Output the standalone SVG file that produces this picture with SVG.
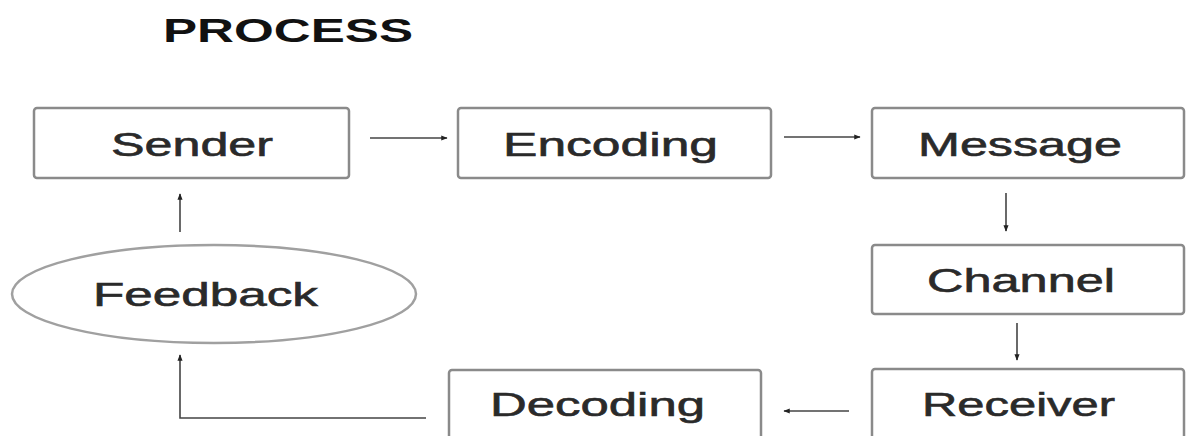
<svg xmlns="http://www.w3.org/2000/svg" width="1186" height="436" viewBox="0 0 1186 436">
  <defs>
    <marker id="dot" viewBox="0 0 10 10" refX="9" refY="5" markerWidth="4" markerHeight="4" orient="auto" markerUnits="strokeWidth">
      <path d="M0,1 L10,5 L0,9 z" fill="#222"/>
    </marker>
    <style>
      .box { fill: #fff; stroke: #8a8a8a; stroke-width: 2.5; }
      .lbl { font-family: "Liberation Sans", Arial, sans-serif; font-size: 33px; fill: #2a2a2a; stroke: #2a2a2a; stroke-width: 0.6; }
      .title { font-family: "Liberation Sans", Arial, sans-serif; font-size: 33px; font-weight: bold; fill: #111; }
      .wire { fill: none; stroke: #444; stroke-width: 1.6; }
    </style>
  </defs>
  <rect width="1186" height="436" fill="#fff"/>

  <text class="title" x="163" y="42" textLength="250" lengthAdjust="spacingAndGlyphs">PROCESS</text>

  <g id="sender">
    <rect class="box" x="34" y="108" width="315" height="70" rx="3"/>
    <text class="lbl" x="111" y="156" textLength="162" lengthAdjust="spacingAndGlyphs">Sender</text>
  </g>
  <g id="encoding">
    <rect class="box" x="458" y="108" width="313" height="70" rx="3"/>
    <text class="lbl" x="503" y="156" textLength="215" lengthAdjust="spacingAndGlyphs">Encoding</text>
  </g>
  <g id="message">
    <rect class="box" x="872" y="108" width="312" height="70" rx="3"/>
    <text class="lbl" x="918" y="156" textLength="204" lengthAdjust="spacingAndGlyphs">Message</text>
  </g>
  <g id="channel">
    <rect class="box" x="872" y="245" width="312" height="69" rx="3"/>
    <text class="lbl" x="927" y="292" textLength="188" lengthAdjust="spacingAndGlyphs">Channel</text>
  </g>
  <g id="receiver">
    <rect class="box" x="872" y="369" width="312" height="80" rx="3"/>
    <text class="lbl" x="922" y="416" textLength="193" lengthAdjust="spacingAndGlyphs">Receiver</text>
  </g>
  <g id="decoding">
    <rect class="box" x="449" y="370" width="312" height="80" rx="3"/>
    <text class="lbl" x="490" y="416" textLength="215" lengthAdjust="spacingAndGlyphs">Decoding</text>
  </g>
  <g id="feedback">
    <ellipse class="box" cx="214" cy="294" rx="202" ry="49" style="stroke:#a0a0a0"/>
    <text class="lbl" x="93" y="306" textLength="225" lengthAdjust="spacingAndGlyphs">Feedback</text>
  </g>

  <g id="connectors">
    <line class="wire" x1="370" y1="138" x2="447" y2="138" marker-end="url(#dot)"/>
    <line class="wire" x1="784" y1="137" x2="860" y2="137" marker-end="url(#dot)"/>
    <line class="wire" x1="1006" y1="193" x2="1006" y2="231" marker-end="url(#dot)"/>
    <line class="wire" x1="1017" y1="323" x2="1017" y2="360" marker-end="url(#dot)"/>
    <line class="wire" x1="849" y1="411" x2="784" y2="411" marker-end="url(#dot)"/>
    <polyline class="wire" points="426,418 180,418 180,355" marker-end="url(#dot)"/>
    <line class="wire" x1="180" y1="232" x2="180" y2="194" marker-end="url(#dot)"/>
  </g>
</svg>
